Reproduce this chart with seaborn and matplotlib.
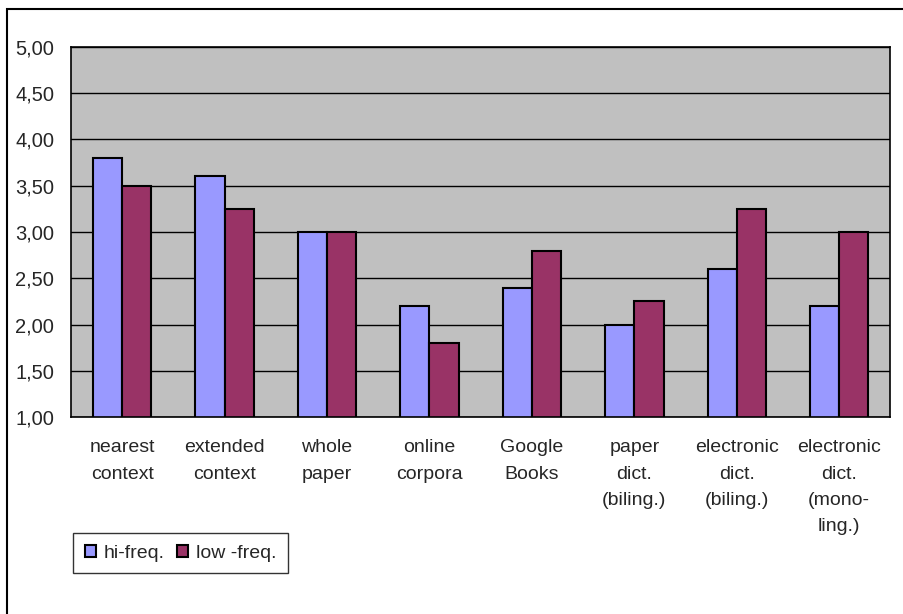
import matplotlib
matplotlib.use("Agg")
import matplotlib.pyplot as plt
import matplotlib.patches as mpatches
from matplotlib.ticker import FixedLocator, FuncFormatter
import seaborn as sns
import pandas as pd

# data
categories = ["nearest\ncontext", "extended\ncontext", "whole\npaper", "online\ncorpora",
              "Google\nBooks", "paper\ndict.\n(biling.)", "electronic\ndict.\n(biling.)",
              "electronic\ndict.\n(mono-\nling.)"]
hi_freq = [3.80, 3.60, 3.00, 2.20, 2.40, 2.00, 2.60, 2.20]
low_freq = [3.50, 3.25, 3.00, 1.80, 2.80, 2.25, 3.25, 3.00]
series = ["hi-freq.", "low -freq."]
colors = ["#9999FF", "#993366"]

df = pd.DataFrame({
    "cat": categories * 2,
    "value": hi_freq + low_freq,
    "series": [series[0]] * len(categories) + [series[1]] * len(categories),
})

sns.set_style("white")
plt.rcParams["font.family"] = ["Liberation Sans", "DejaVu Sans"]

fig = plt.figure(figsize=(9.04, 6.14), dpi=100)
ax = fig.add_axes([0.0785, 0.3208, 0.9065, 0.6027])

sns.barplot(data=df, x="cat", y="value", hue="series", palette=colors, saturation=1,
            width=0.57, edgecolor="black", linewidth=1.5, ax=ax, legend=False)

ax.set_facecolor("#C0C0C0")
ax.set_ylim(1, 5)
ax.set_xlim(-0.5, len(categories) - 0.5)
ax.set_yticks([1, 1.5, 2, 2.5, 3, 3.5, 4, 4.5, 5])
ax.yaxis.set_major_formatter(FuncFormatter(lambda v, p: f"{v:.2f}".replace(".", ",")))
ax.yaxis.grid(True, color="black", linewidth=1)
ax.set_axisbelow(True)

# category ticks between groups, labels centred
ax.xaxis.set_major_locator(FixedLocator([i - 0.5 for i in range(len(categories) + 1)]))
ax.xaxis.set_minor_locator(FixedLocator(list(range(len(categories)))))
ax.set_xticklabels([], minor=False)
ax.set_xticklabels(categories, minor=True, linespacing=1.72, fontsize=14)
ax.tick_params(axis="x", which="major", length=6, width=1, color="black", direction="out")
ax.tick_params(axis="x", which="minor", length=0, pad=16)
ax.tick_params(axis="y", length=6, width=1, color="black", direction="out", pad=6)
for lab in ax.get_yticklabels():
    lab.set_fontsize(14.5)
for lab in ax.get_xticklabels(minor=True):
    lab.set_verticalalignment("top")

for s in ax.spines.values():
    s.set_visible(True)
    s.set_color("black")
    s.set_linewidth(1.2)

ax.set_xlabel("")
ax.set_ylabel("")

handles = [mpatches.Patch(facecolor=c, edgecolor="black", linewidth=1.5, label=l)
           for c, l in zip(colors, series)]
leg = fig.legend(handles=handles, loc="upper left", bbox_to_anchor=(73 / 904, 1 - 533 / 614),
                 ncol=2, frameon=True, fontsize=14, handlelength=0.6, handleheight=0.6,
                 handletextpad=0.4, columnspacing=0.6, borderpad=0.6, fancybox=False,
                 borderaxespad=0)
leg.get_frame().set_edgecolor("black")
leg.get_frame().set_linewidth(1)

# outer chart border
fig.patches.append(mpatches.Rectangle((7 / 904, -0.05), 1.0, 1 - 9 / 614 + 0.05,
                                      transform=fig.transFigure, fill=False,
                                      edgecolor="black", linewidth=1.5))

fig.savefig("out.png", dpi=100)
